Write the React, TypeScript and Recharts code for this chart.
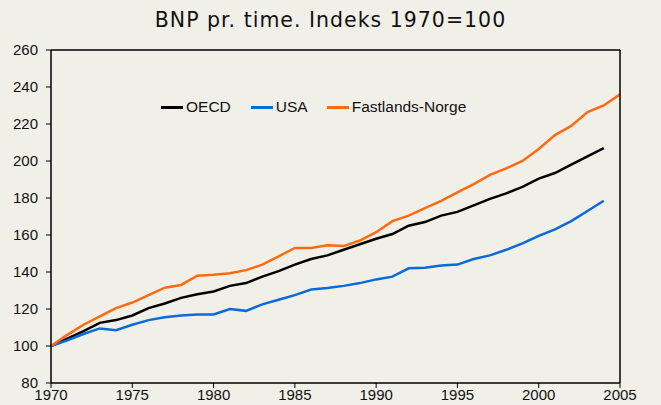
import React from 'react';
import { LineChart, Line, XAxis, YAxis, ReferenceLine } from 'recharts';

const years = [1970,1971,1972,1973,1974,1975,1976,1977,1978,1979,1980,1981,1982,1983,1984,1985,1986,1987,1988,1989,1990,1991,1992,1993,1994,1995,1996,1997,1998,1999,2000,2001,2002,2003,2004,2005];
const oecd = [100,104,108,112.5,114,116.5,120.5,123,126,128,129.5,132.5,134,137.5,140.5,144,147,149,152,155,158,160.5,165,167,170.5,172.5,176,179.5,182.5,186,190.5,193.5,198,202.5,207,null];
const usa = [100,103,106.5,109.5,108.5,111.5,114,115.5,116.5,117,117,120,119,122.5,125,127.5,130.5,131.3,132.5,134,136,137.5,142,142.3,143.5,144,147,149,152,155.5,159.5,163,167.5,173,178.5,null];
const norge = [100,106,111.5,116,120.5,123.5,127.5,131.5,133,138,138.5,139.3,141,144,148.5,153,153,154.5,154,157,161.5,167.5,170.5,174.5,178.5,183,187.5,192.5,196,200,206.5,214,219,226.5,230,236];
const xTicks = [1970,1975,1980,1985,1990,1995,2000,2005];
const yTicks = [80,100,120,140,160,180,200,220,240,260];
const seriesNames = ['OECD','USA','Fastlands-Norge'];
const colors = ['#000000','#0a6ad8','#ff6a10'];

const data = years.map((y, i) => ({ year: y, oecd: oecd[i], usa: usa[i], norge: norge[i] }));

const font = 'Liberation Sans, Arial, sans-serif';

export default function App() {
  const tickStyle = { fontSize: 15, fill: '#111', fontFamily: font };
  return (
    <div style={{ position: 'fixed', left: 0, top: 0, width: 661, height: 405, background: '#f0f0e9' }}>
      <div style={{ position: 'absolute', left: 0, top: 8, width: 661, textAlign: 'center', fontFamily: 'DejaVu Sans, Verdana, sans-serif', fontSize: 20.5, letterSpacing: 1, color: '#111', lineHeight: '24px' }}>
        BNP pr. time. Indeks 1970=100
      </div>
      <div style={{ position: 'absolute', left: 161, top: 98, display: 'flex', alignItems: 'center', fontFamily: font, fontSize: 15.5, color: '#111' }}>
        {seriesNames.map((n, i) => (
          <div key={n} style={{ display: 'flex', alignItems: 'center', marginRight: i === 0 ? 20 : 19 }}>
            <div style={{ width: 22, height: 3, background: colors[i], marginRight: 3 }} />
            <span>{n}</span>
          </div>
        ))}
      </div>
      <LineChart width={661} height={405} data={data} margin={{ top: 50, right: 0, bottom: 0, left: 0 }}>
        <XAxis dataKey="year" type="number" domain={[1970, 2005]} ticks={xTicks} height={22}
          axisLine={{ stroke: '#000', strokeWidth: 1.5 }} tickLine={{ stroke: '#000' }} tickSize={5} tickMargin={1}
          tick={tickStyle} interval={0} />
        <YAxis yAxisId="l" orientation="left" domain={[80, 260]} ticks={yTicks} width={51}
          axisLine={{ stroke: '#000', strokeWidth: 1.5 }} tickLine={{ stroke: '#000' }} tickSize={5} tickMargin={8}
          tick={tickStyle} interval={0} />
        <YAxis yAxisId="r" orientation="right" domain={[80, 260]} ticks={yTicks} width={41}
          axisLine={{ stroke: '#000', strokeWidth: 1.5 }} tickLine={{ stroke: '#000' }} tickSize={5} tickMargin={7}
          tick={tickStyle} interval={0} />
        <ReferenceLine yAxisId="l" y={260} stroke="#000" strokeWidth={1.5} />
        <Line yAxisId="l" dataKey="oecd" stroke={colors[0]} strokeWidth={2.5} dot={false} isAnimationActive={false} />
        <Line yAxisId="l" dataKey="usa" stroke={colors[1]} strokeWidth={2.5} dot={false} isAnimationActive={false} />
        <Line yAxisId="l" dataKey="norge" stroke={colors[2]} strokeWidth={2.5} dot={false} isAnimationActive={false} />
      </LineChart>
    </div>
  );
}
